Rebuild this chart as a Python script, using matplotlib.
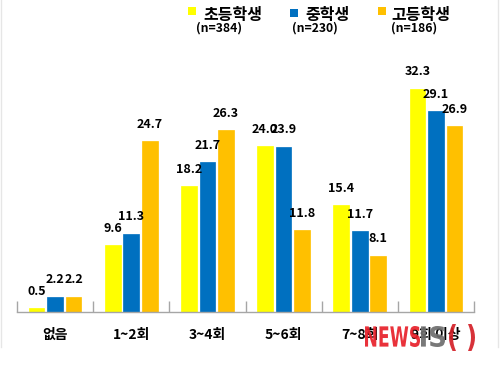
import matplotlib
matplotlib.use("Agg")
import matplotlib.pyplot as plt
from matplotlib.patches import Rectangle, PathPatch
from matplotlib.lines import Line2D
from matplotlib.textpath import TextPath
from matplotlib.font_manager import FontProperties
from matplotlib.transforms import Affine2D
import numpy as np

plt.rcParams['font.family'] = ['Noto Sans CJK KR', 'DejaVu Sans']

categories = ["없음", "1~2회", "3~4회", "5~6회", "7~8회", "9회 이상"]
series_names = ["초등학생", "중학생", "고등학생"]
series_n = ["(n=384)", "(n=230)", "(n=186)"]
elementary = [0.5, 9.6, 18.2, 24.0, 15.4, 32.3]
middle = [2.2, 11.3, 21.7, 23.9, 11.7, 29.1]
high = [2.2, 24.7, 26.3, 11.8, 8.1, 26.9]
colors = ["#FFFF00", "#0070C0", "#FFC000"]

W, H = 500, 372
fig = plt.figure(figsize=(W / 100, H / 100), dpi=100)
fig.patch.set_facecolor("white")

ax = fig.add_axes([17 / W, (H - 311.7) / H, 457 / W, 248.4 / H])
x = np.arange(len(categories))
offs = [-0.243, 0.0, 0.243]
bw = 0.205
for vals, off, col in zip([elementary, middle, high], offs, colors):
    ax.bar(x + off, vals, width=bw, color=col, edgecolor=col, linewidth=0.5, zorder=2)
    for xi, v in zip(x, vals):
        ax.text(xi + off, v + 2.45, f"{v:.1f}", ha="center", va="center",
                fontsize=9, fontweight="bold", color="black", zorder=3)

ax.set_xlim(-0.5, len(categories) - 0.5)
ax.set_ylim(0, 36)
for s in ["top", "left", "right"]:
    ax.spines[s].set_visible(False)
ax.spines["bottom"].set_color("#a6a6a6")
ax.spines["bottom"].set_linewidth(1.0)
ax.set_yticks([])
ax.set_xticks(x)
ax.set_xticklabels(categories, fontsize=10, fontweight="bold")
ax.set_xticks(np.arange(-0.5, len(categories)), minor=True)
ax.tick_params(axis="x", which="major", length=0, pad=12)
ax.tick_params(axis="x", which="minor", direction="in", length=8, color="#a6a6a6", width=1)
ax.patch.set_alpha(0)

# legend
sq = [(188, 7), (290, 9), (378, 7)]
name_pos = [(203, 15), (305, 15), (391, 15)]
n_pos = [(196, 28), (292, 28), (391, 28)]
for (sx, sy), (tx, ty), (nx, ny), col, nm, nn in zip(sq, name_pos, n_pos, colors, series_names, series_n):
    fig.patches.append(Rectangle((sx / W, 1 - (sy + 8) / H), 8 / W, 8 / H,
                                 transform=fig.transFigure, facecolor=col, edgecolor="none"))
    fig.text(tx / W, 1 - ty / H, nm, ha="left", va="center", fontsize=11.5, fontweight="bold")
    fig.text(nx / W, 1 - ny / H, nn, ha="left", va="center", fontsize=8.8, fontweight="bold")

# frame lines
fig.lines.append(Line2D([0.5 / W, 0.5 / W], [1, 1 - 347 / H], transform=fig.transFigure, color="#e6e6e6", lw=1))
fig.lines.append(Line2D([498 / W, 498 / W], [1, 1 - 347 / H], transform=fig.transFigure, color="#e6e6e6", lw=1))

# watermark (condensed heavy lettering)
fp = FontProperties(family="DejaVu Sans", weight="bold")


def word(s, x0, x1, ytop, ybot, color):
    tp = TextPath((0, 0), s, size=1, prop=fp)
    ext = tp.get_extents()
    sx = (x1 - x0) / ext.width
    sy = (ybot - ytop) / ext.height
    tr = Affine2D().translate(-ext.x0, -ext.y0).scale(sx, sy).translate(x0, H - ybot)
    fig.add_artist(PathPatch(tp, transform=tr, facecolor=color, edgecolor="none", alpha=0.92, zorder=10))


word("NEWS", 365, 420, 326, 347, "#e8202a")
word("IS", 421, 445, 326, 347, "#6e6e6e")
word("(", 449, 456, 324, 351, "#d42028")
word(")", 468, 475, 324, 351, "#d42028")

fig.savefig("out.png", dpi=100, facecolor="white")
